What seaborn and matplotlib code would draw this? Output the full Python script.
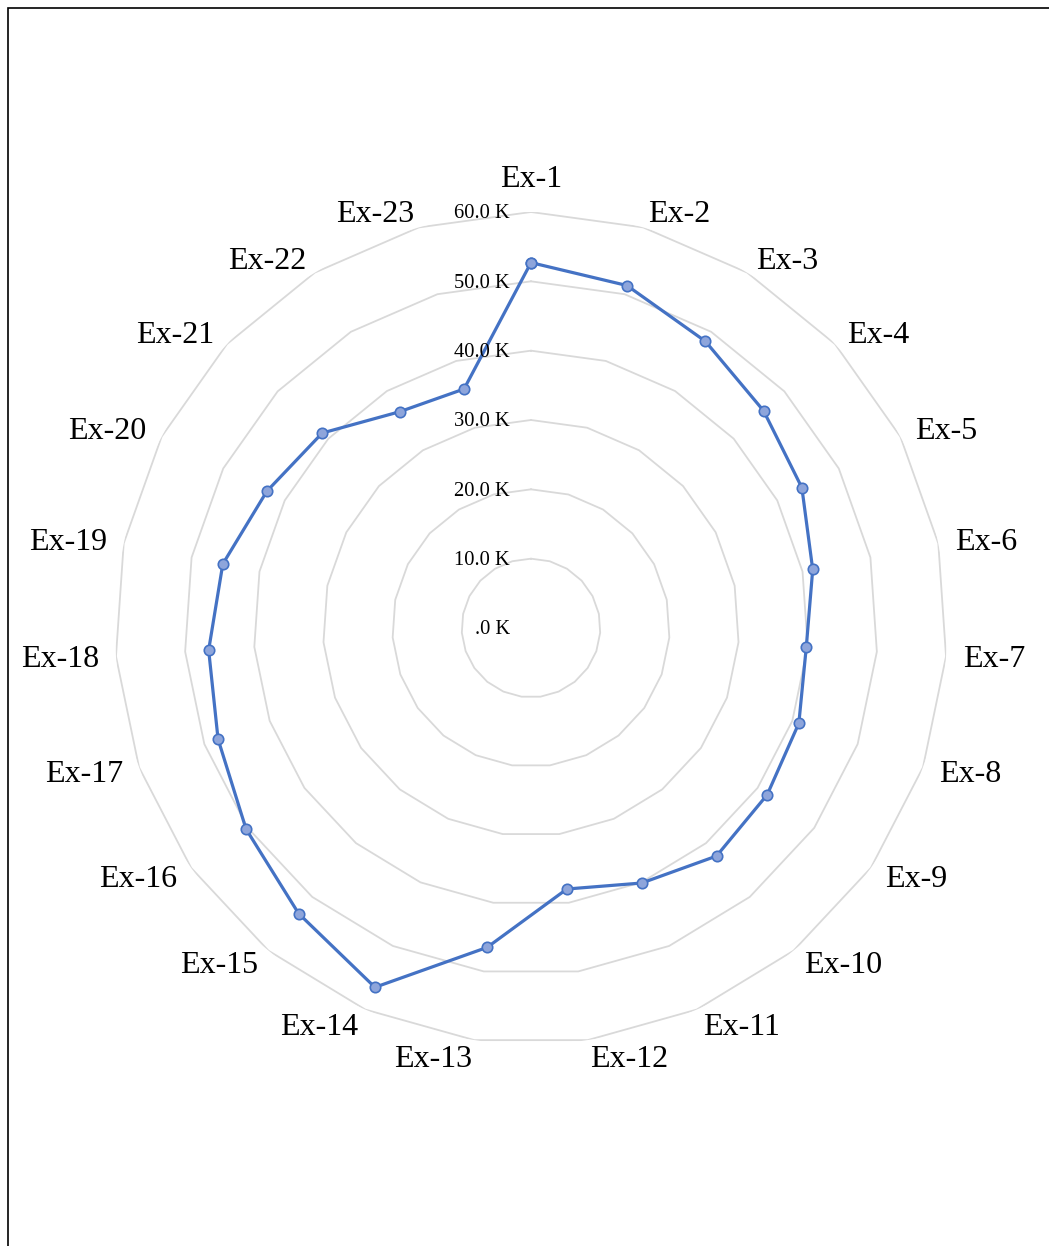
import numpy as np
import matplotlib
matplotlib.use("Agg")
import matplotlib.pyplot as plt
import seaborn as sns

# categories and values (thousands)
categories = [f"Ex-{i}" for i in range(1, 24)]
values = [52.7, 51.3, 48.4, 45.9, 44.0, 41.5, 39.8, 41.0, 41.7, 42.4, 40.1, 38.0,
          46.5, 56.5, 53.1, 50.3, 47.9, 46.6, 45.4, 42.9, 41.2, 36.5, 35.8]
rings = [0, 10, 20, 30, 40, 50, 60]
ring_labels = [".0 K", "10.0 K", "20.0 K", "30.0 K", "40.0 K", "50.0 K", "60.0 K"]

sns.set_style("white")
plt.rcParams['font.family'] = ['Liberation Serif', 'DejaVu Serif']

W, H = 1049, 1246
fig = plt.figure(figsize=(W / 100, H / 100), dpi=100)

# frame line around the chart area (top and left visible)
frame = plt.Rectangle((8 / W, -0.1), 1.2, 1 - 8 / H + 0.1, transform=fig.transFigure,
                      fill=False, edgecolor="black", linewidth=1.2)
fig.patches.append(frame)

cx, cy, R = 531, H - 628, 416
ax = fig.add_axes([(cx - R) / W, (cy - R) / H, 2 * R / W, 2 * R / H], projection="polar")
ax.set_theta_zero_location("N")
ax.set_theta_direction(-1)
ax.set_ylim(0, 60)
ax.grid(False)
ax.spines["polar"].set_visible(False)
ax.set_xticks([])
ax.set_yticks([])
ax.patch.set_alpha(0)

n = len(categories)
theta = np.arange(n) * 2 * np.pi / n
theta_c = np.append(theta, theta[0])

# polygon grid
for r in rings[1:]:
    ax.plot(theta_c, [r] * (n + 1), color="#D9D9D9", linewidth=1.3, zorder=1)

# radial labels
for r, lab in zip(rings, ring_labels):
    ax.annotate(lab, xy=(0, r), xytext=(-21, -2), textcoords="offset pixels",
                ha="right", va="center", fontsize=14.8, color="black", zorder=5)

# category labels, anchored just outside the outer ring like Excel does
for t, lab in zip(theta, categories):
    s, c = np.sin(t), np.cos(t)
    if abs(s) < 0.01:
        ha, dx = "center", 0
    elif s > 0:
        ha, dx = "left", 17 * s
    else:
        ha, dx = "right", 17 * s
    if abs(t) < 1e-6:
        dy = 35.5
    else:
        dy = 1 + 15.5 * c - 2 * max(0, -c) ** 4
    ax.annotate(lab, xy=(t, 60), xytext=(dx, dy - 10.8), textcoords="offset pixels",
                ha=ha, va="baseline", fontsize=23, color="black",
                annotation_clip=False)

vals_c = np.append(values, values[0])
sns.lineplot(x=theta_c, y=vals_c, ax=ax, sort=False, estimator=None, color="#4472C4",
             linewidth=2.3, marker="o", markersize=7.5, markerfacecolor="#8EA5DB",
             markeredgecolor="#4472C4", markeredgewidth=1.2, zorder=4)
ax.set_xlabel("")
ax.set_ylabel("")

fig.savefig("out.png", dpi=100)
